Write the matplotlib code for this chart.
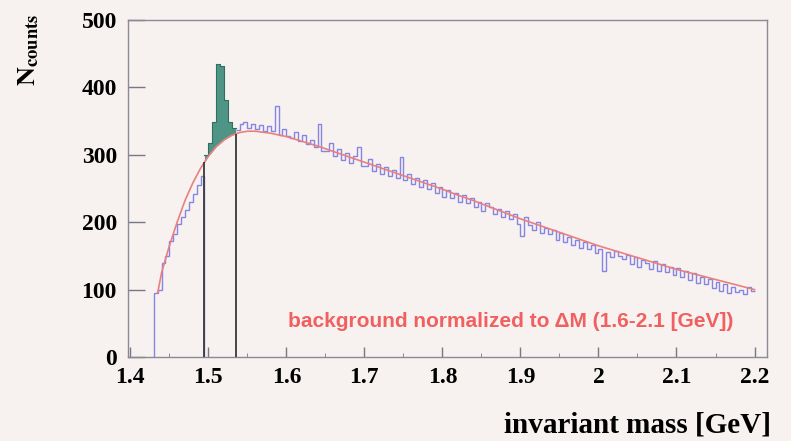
import numpy as np
import matplotlib
matplotlib.use("Agg")
import matplotlib.pyplot as plt

# Invariant-mass spectrum, 5 MeV bins from 1.430 GeV
bin_start = 1.430
bin_width = 0.005
counts = [
    95, 100, 140, 150, 172, 182, 198, 208, 218, 230,
    242, 255, 268, 300, 318, 348, 435, 432, 382, 348,
    340, 337, 345, 348, 340, 346, 338, 344, 336, 342,
    335, 372, 330, 338, 328, 325, 334, 320, 330, 316,
    322, 312, 346, 306, 305, 318, 298, 308, 292, 302,
    288, 298, 312, 284, 284, 294, 276, 286, 272, 282,
    268, 278, 266, 296, 262, 272, 256, 266, 252, 262,
    250, 258, 244, 252, 238, 248, 236, 244, 230, 240,
    228, 236, 222, 230, 216, 228, 222, 212, 220, 208,
    216, 205, 212, 198, 180, 208, 196, 188, 200, 184,
    192, 182, 188, 174, 184, 170, 178, 166, 174, 162,
    170, 160, 166, 154, 160, 128, 156, 148, 158, 150,
    146, 152, 138, 148, 134, 144, 140, 130, 142, 128,
    138, 126, 134, 122, 132, 118, 128, 114, 124, 110,
    118, 108, 116, 102, 112, 98, 108, 95, 104, 96,
    100, 93, 104, 98,
]

# Normalized background shape
bg_mass = [1.435, 1.44, 1.45, 1.46, 1.47, 1.48, 1.49, 1.50, 1.51, 1.52,
           1.53, 1.54, 1.55, 1.56, 1.58, 1.60, 1.62, 1.64, 1.66, 1.68,
           1.70, 1.72, 1.74, 1.76, 1.78, 1.80, 1.82, 1.84, 1.86, 1.88,
           1.90, 1.92, 1.94, 1.96, 1.98, 2.00, 2.02, 2.04, 2.06, 2.08,
           2.10, 2.12, 2.14, 2.16, 2.18, 2.20]
bg_counts = [95, 125, 165, 200, 232, 258, 280, 298, 312, 322,
             329, 333, 335, 335, 332, 327, 320, 313, 305, 297,
             289, 281, 273, 265, 257, 249, 240, 232, 223, 214,
             205, 197, 189, 181, 173, 165, 158, 151, 144, 137,
             130, 124, 118, 112, 106, 100]

# Signal window
window = (1.495, 1.535)

x_ticks = [1.4, 1.5, 1.6, 1.7, 1.8, 1.9, 2.0, 2.1, 2.2]
x_tick_labels = ["1.4", "1.5", "1.6", "1.7", "1.8", "1.9", "2", "2.1", "2.2"]
y_ticks = [0, 100, 200, 300, 400, 500]

bg_color = "#f7f2f0"
hist_color = "#8585e2"
bg_line_color = "#ea7f7f"
fill_color = "#4f9585"
edge_color = "#2f6f62"

plt.rcParams["font.family"] = ["Liberation Serif", "DejaVu Serif"]
plt.rcParams["mathtext.fontset"] = "stix"

fig = plt.figure(figsize=(7.91, 4.41), dpi=100, facecolor=bg_color)
ax = fig.add_axes([128 / 791, 1 - 357 / 441, (767 - 128) / 791, (357 - 20) / 441])
ax.set_facecolor(bg_color)

counts = np.asarray(counts, dtype=float)
edges = bin_start + bin_width * np.arange(len(counts) + 1)

lo, hi = window
left_mask = edges[:-1] < lo - 1e-9
right_mask = edges[:-1] >= hi - 1e-9

# Histogram outside the signal window
n_left = int(left_mask.sum())
ax.stairs(counts[:n_left], edges[:n_left + 1], color=hist_color, lw=1.0,
          baseline=0, zorder=3)
i_right = int(np.argmax(right_mask))
ax.stairs(counts[i_right:], edges[i_right:], color=hist_color, lw=1.0,
          baseline=None, zorder=3)

# Background curve
ax.plot(bg_mass, bg_counts, color=bg_line_color, lw=1.2, zorder=4)

# Excess above background inside the window
win_edges = edges[n_left:i_right + 1]
win_counts = counts[n_left:i_right]
xs = np.repeat(win_edges, 2)[1:-1]
ys = np.repeat(win_counts, 2)
bs = np.interp(xs, bg_mass, bg_counts)
ax.fill_between(xs, bs, ys, color=fill_color, lw=0, zorder=2)
ax.plot(xs, ys, color=edge_color, lw=0.8, zorder=3)

# Window boundaries
ax.vlines([lo, hi], 0, np.interp([lo, hi], bg_mass, bg_counts),
          color="#3a3a3a", lw=1.3, zorder=5)

ax.set_xlim(1.397, 2.216)
ax.set_ylim(0, 500)
ax.set_xticks(x_ticks)
ax.set_xticklabels(x_tick_labels)
ax.set_xticks(np.arange(1.45, 2.2, 0.1), minor=True)
ax.set_yticks(y_ticks)

ax.tick_params(axis="both", which="major", direction="in", labelsize=17,
               color="#777788", width=1.0)
ax.tick_params(axis="y", which="major", length=12, pad=8)
ax.tick_params(axis="x", which="major", length=7, pad=7)
ax.tick_params(axis="x", which="minor", direction="in", length=3,
               color="#777788")
for lab in ax.get_xticklabels() + ax.get_yticklabels():
    lab.set_fontweight("bold")

for side in ["left", "right", "top", "bottom"]:
    ax.spines[side].set_color("#8a8a96")
    ax.spines[side].set_linewidth(1.0)

ax.text(1.887, 52, "background normalized to \u0394M (1.6-2.1 [GeV])",
        color="#f06060", fontsize=15, fontweight="bold",
        family=["Liberation Sans", "DejaVu Sans"], ha="center", va="center",
        zorder=6)

fig.text(771 / 791, 1 - 425 / 441, "invariant mass [GeV]", ha="right",
         va="center", fontsize=21, fontweight="bold")
fig.text(29 / 791, 1 - 50 / 441, r"$\mathbf{N_{counts}}$", rotation=90,
         ha="center", va="center", fontsize=19)

fig.savefig("out.png", dpi=100, facecolor=bg_color)
